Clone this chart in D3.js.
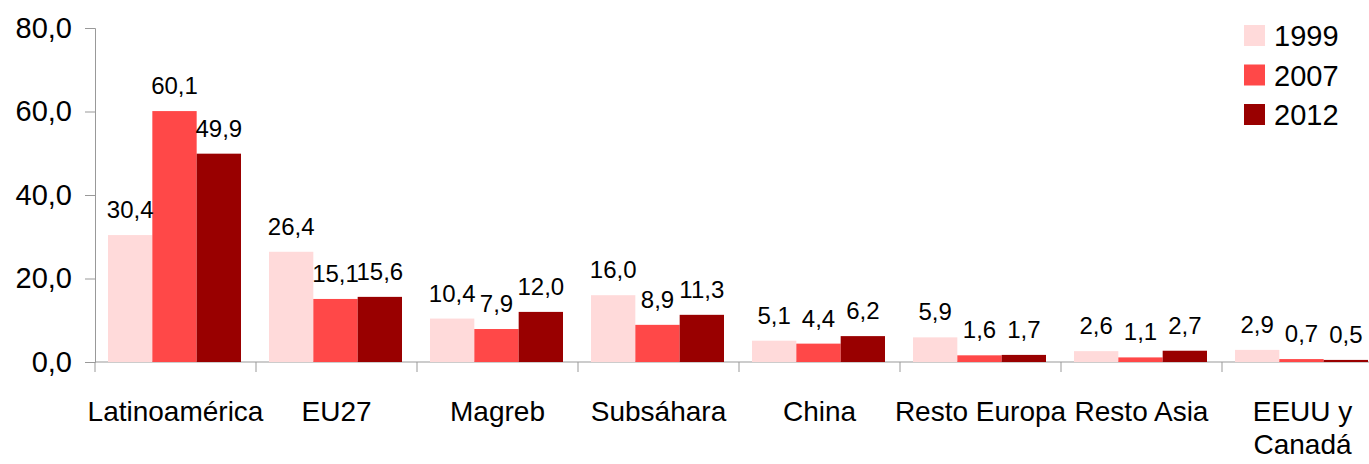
<!DOCTYPE html>
<html>
<head>
<meta charset="utf-8">
<script src="https://cdn.jsdelivr.net/npm/d3@7"></script>
<style>
  body { margin: 0; background: #fff; }
  svg { display: block; font-family: "Liberation Sans", Arial, sans-serif; }
  .axis path, .axis line { stroke: #999; }
</style>
</head>
<body>
<svg width="1369" height="464"></svg>
<script>
var categories = ["Latinoamérica", "EU27", "Magreb", "Subsáhara", "China", "Resto Europa", "Resto Asia", "EEUU y Canadá"];
var catLines = [["Latinoamérica"], ["EU27"], ["Magreb"], ["Subsáhara"], ["China"], ["Resto Europa"], ["Resto Asia"], ["EEUU y", "Canadá"]];
var years = ["1999", "2007", "2012"];
var v1999 = [30.4, 26.4, 10.4, 16.0, 5.1, 5.9, 2.6, 2.9];
var v2007 = [60.1, 15.1, 7.9, 8.9, 4.4, 1.6, 1.1, 0.7];
var v2012 = [49.9, 15.6, 12.0, 11.3, 6.2, 1.7, 2.7, 0.5];
var yTicks = [0, 20, 40, 60, 80];
var colors = ["#ffdada", "#ff4848", "#990000"];

var series = [v1999, v2007, v2012];
var svg = d3.select("svg");

var fmt = function(v) { return d3.format(".1f")(v).replace(".", ","); };

// plot extends past the right edge, like the cropped original
var x0 = d3.scaleBand().domain(categories).range([95, 1383]);
var x1 = d3.scaleBand().domain(years).range([13, 146]);
var y = d3.scaleLinear().domain([0, 80]).range([362, 28]);

var yAxis = svg.append("g")
    .attr("class", "axis")
    .attr("transform", "translate(95,0)")
    .call(d3.axisLeft(y).tickValues(yTicks).tickFormat(fmt).tickSize(10).tickSizeOuter(10).tickPadding(13));
yAxis.selectAll("text")
    .attr("fill", "#000")
    .style("font-size", "29px");

// x axis line + category separators
var xg = svg.append("g").attr("class", "axis");
xg.append("line")
    .attr("x1", 95).attr("x2", 1383)
    .attr("y1", y(0)).attr("y2", y(0));
xg.selectAll(".sep")
    .data(categories)
    .enter().append("line")
    .attr("x1", function(d) { return x0(d); })
    .attr("x2", function(d) { return x0(d); })
    .attr("y1", y(0)).attr("y2", y(0) + 10);

var groups = svg.selectAll(".grp")
    .data(categories)
    .enter().append("g")
    .attr("transform", function(d) { return "translate(" + x0(d) + ",0)"; });

groups.selectAll("rect")
    .data(function(d, i) { return years.map(function(yr, k) { return {year: yr, k: k, value: series[k][i]}; }); })
    .enter().append("rect")
    .attr("x", function(d) { return x1(d.year); })
    .attr("width", x1.bandwidth())
    .attr("y", function(d) { return y(d.value); })
    .attr("height", function(d) { return y(0) - y(d.value); })
    .attr("fill", function(d) { return colors[d.k]; });

groups.selectAll(".val")
    .data(function(d, i) { return years.map(function(yr, k) { return {year: yr, k: k, value: series[k][i]}; }); })
    .enter().append("text")
    .attr("x", function(d) { return x1(d.year) + x1.bandwidth() / 2; })
    .attr("y", function(d) { return y(d.value) - 17; })
    .attr("text-anchor", "middle")
    .style("font-size", "24px")
    .text(function(d) { return fmt(d.value); });

// category labels
var cl = svg.selectAll(".cat")
    .data(categories)
    .enter().append("text")
    .attr("text-anchor", "middle")
    .style("font-size", "28px")
    .attr("transform", function(d) { return "translate(" + (x0(d) + x0.bandwidth() / 2) + ",421)"; });
cl.selectAll("tspan")
    .data(function(d, i) { return catLines[i]; })
    .enter().append("tspan")
    .attr("x", 0)
    .attr("dy", function(d, j) { return j ? 33 : 0; })
    .text(function(d) { return d; });

// legend
var leg = svg.selectAll(".leg")
    .data(years)
    .enter().append("g")
    .attr("transform", function(d, i) { return "translate(1244," + (25 + i * 39.5) + ")"; });
leg.append("rect")
    .attr("width", 21).attr("height", 21)
    .attr("fill", function(d, i) { return colors[i]; });
leg.append("text")
    .attr("x", 30).attr("y", 21)
    .style("font-size", "29px")
    .text(function(d) { return d; });
</script>
</body>
</html>
